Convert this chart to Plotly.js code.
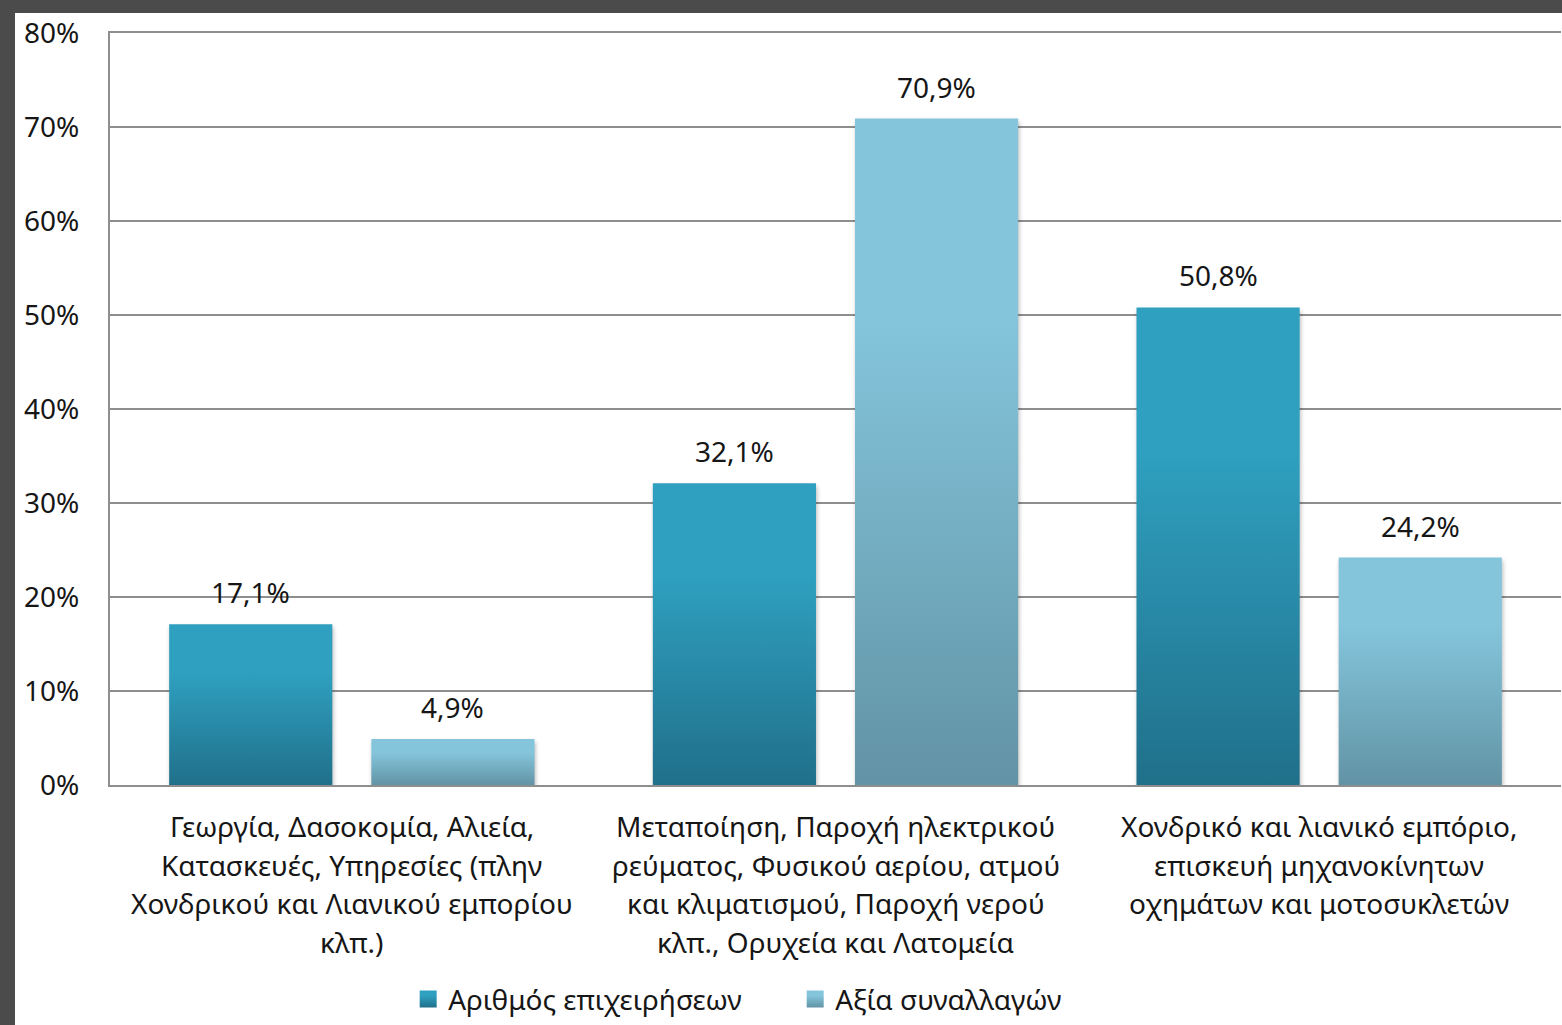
<!DOCTYPE html>
<html>
<head>
<meta charset="utf-8">
<script src="https://cdn.plot.ly/plotly-3.0.1.min.js"></script>
<style>
  html, body { margin: 0; padding: 0; background: #4b4b4b; width: 1562px; height: 1025px; overflow: hidden; }
  #chart { position: absolute; left: 15px; top: 13px; width: 1547px; height: 1012px; background: #fff; }
  .bars .point path { filter: drop-shadow(1px 3px 2px rgba(0,0,0,0.28)); }
</style>
</head>
<body>
<div id="chart"></div>
<script>
// Sector categories (line breaks as drawn under the axis)
const categories = [
  "Γεωργία, Δασοκομία, Αλιεία,<br>Κατασκευές, Υπηρεσίες (πλην<br>Χονδρικού και Λιανικού εμπορίου<br>κλπ.)",
  "Μεταποίηση, Παροχή ηλεκτρικού<br>ρεύματος, Φυσικού αερίου, ατμού<br>και κλιματισμού, Παροχή νερού<br>κλπ., Ορυχεία και Λατομεία",
  "Χονδρικό και λιανικό εμπόριο,<br>επισκευή μηχανοκίνητων<br>οχημάτων και μοτοσυκλετών"
];
const seriesNames = ["Αριθμός επιχειρήσεων", "Αξία συναλλαγών"];
const businessCount = [17.1, 32.1, 50.8];
const transactionValue = [4.9, 70.9, 24.2];
const yTicks = [0, 10, 20, 30, 40, 50, 60, 70, 80];
const yTickText = ["0%", "10%", "20%", "30%", "40%", "50%", "60%", "70%", "80%"];

const FONT = "Noto Sans, Open Sans, sans-serif";
const TEXT = "#161616";
const FS = 28;
const BARGAP = 0.164;
const GRID = "#8e8e8e";
const gradients = [
  { id: "gradDark", top: "#2FA0C0", bottom: "#20708A" },
  { id: "gradLight", top: "#84C5DC", bottom: "#6293A5" }
];

const fmt = v => v.toFixed(1).replace(".", ",") + "%";

const traces = [businessCount, transactionValue].map((vals, k) => ({
  type: "bar",
  name: seriesNames[k],
  x: [0, 1, 2],
  y: vals,
  marker: { color: k === 0 ? "#2789A8" : "#75AEC3", line: { width: 0 } },
  hoverinfo: "skip"
}));

// Value labels above each bar
const annotations = [];
[businessCount, transactionValue].forEach((vals, k) => {
  const off = (1 - BARGAP) / 4 * (k === 0 ? -1 : 1);
  vals.forEach((v, i) => {
    annotations.push({
      x: i + off, y: v, xref: "x", yref: "y",
      text: fmt(v), showarrow: false, yanchor: "bottom", yshift: 11,
      font: { family: FONT, size: FS, color: TEXT }
    });
  });
});

// Category labels, one annotation per line
categories.forEach((cat, i) => {
  cat.split("<br>").forEach((line, j) => {
    annotations.push({
      x: i, y: 0, xref: "x", yref: "paper",
      text: line, showarrow: false, yanchor: "middle",
      yshift: -(41 + j * 38.7),
      font: { family: FONT, size: FS, color: TEXT }
    });
  });
});

const layout = {
  width: 1547, height: 1012,
  margin: { l: 95, r: 1, t: 20, b: 240 },
  paper_bgcolor: "#ffffff", plot_bgcolor: "#ffffff",
  barmode: "group", bargap: BARGAP, bargroupgap: 0.193,
  font: { family: FONT, color: TEXT },
  showlegend: true,
  legend: {
    orientation: "h", x: 0.2055, xanchor: "left", y: -0.285, yanchor: "middle",
    entrywidth: 342, entrywidthmode: "pixels",
    font: { family: FONT, size: FS, color: TEXT },
    itemclick: false, itemdoubleclick: false, traceorder: "normal"
  },
  xaxis: {
    type: "linear", range: [-0.5, 2.5], showticklabels: false,
    showgrid: false, zeroline: false, fixedrange: true,
    showline: true, mirror: true, linecolor: GRID, linewidth: 2
  },
  yaxis: {
    range: [0, 80], tickmode: "array", tickvals: yTicks, ticktext: yTickText,
    showgrid: true, gridcolor: GRID, gridwidth: 2,
    zeroline: false, showline: true, linecolor: GRID, linewidth: 2,
    ticks: "", ticklabelstandoff: 23, ticklabeloverflow: "allow",
    tickfont: { family: FONT, size: FS, color: TEXT },
    fixedrange: true
  },
  annotations: annotations
};

Plotly.newPlot("chart", traces, layout, { staticPlot: true, displayModeBar: false }).then(gd => {
  // Vertical gradient fills for bars and legend swatches
  const svgNS = "http://www.w3.org/2000/svg";
  const svg = gd.querySelector(".main-svg");
  let defs = svg.querySelector("defs");
  if (!defs) { defs = document.createElementNS(svgNS, "defs"); svg.insertBefore(defs, svg.firstChild); }
  gradients.forEach(g => {
    const lg = document.createElementNS(svgNS, "linearGradient");
    lg.setAttribute("id", g.id);
    lg.setAttribute("x1", "0"); lg.setAttribute("y1", "0");
    lg.setAttribute("x2", "0"); lg.setAttribute("y2", "1");
    [[0, g.top], [0.3, g.top], [1, g.bottom]].forEach(([o, c]) => {
      const s = document.createElementNS(svgNS, "stop");
      s.setAttribute("offset", o); s.setAttribute("stop-color", c);
      lg.appendChild(s);
    });
    defs.appendChild(lg);
  });
  gd.querySelectorAll(".barlayer .trace.bars").forEach((tr, k) => {
    tr.querySelectorAll(".point path").forEach(p => { p.style.fill = `url(#${gradients[k].id})`; });
  });
  gd.querySelectorAll(".legend .traces").forEach((tr, k) => {
    tr.querySelectorAll(".legendpoints path").forEach(p => {
      p.style.fill = `url(#${gradients[k].id})`;
      p.setAttribute("d", "M8.5,8.5H-8.5V-8.5H8.5Z");
    });
  });
});
</script>
</body>
</html>
